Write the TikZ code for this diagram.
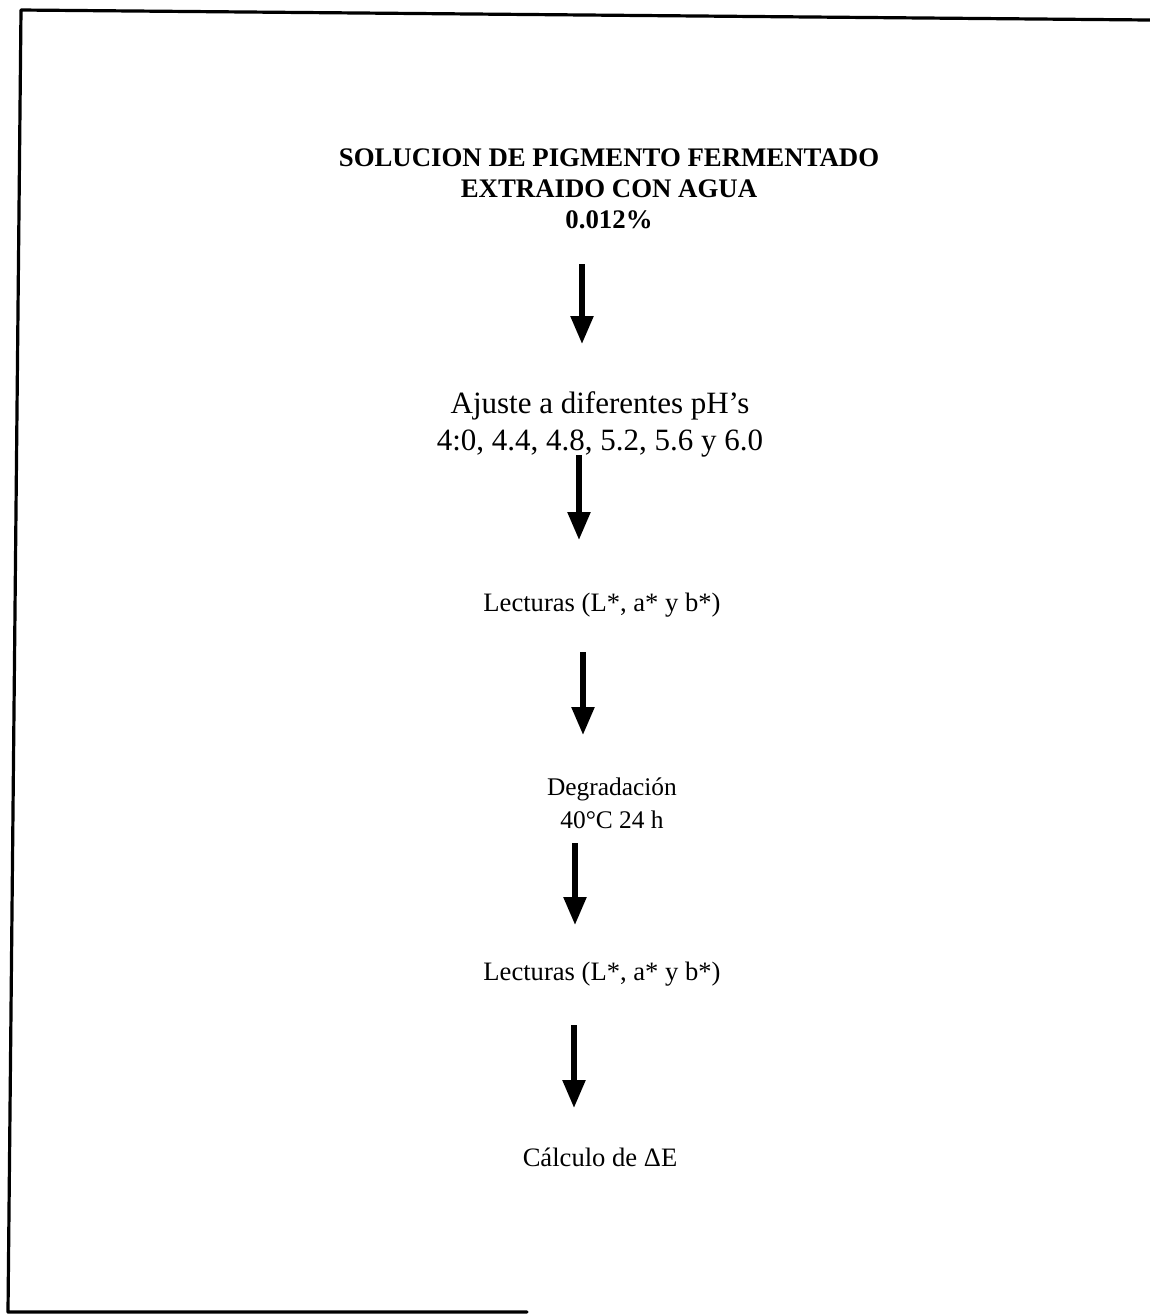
\documentclass[tikz,border=0pt]{standalone}
\usepackage{fontspec}
\setmainfont{Liberation Serif}
\usepackage{tikz}
\usetikzlibrary{arrows.meta}
\definecolor{qqqqqq}{rgb}{0.,0.,0.}
\tikzset{
  flecha/.style={line width=2.7pt,line cap=butt,color=qqqqqq,-{Triangle[width=11pt,length=14pt]}},
  marco/.style={line width=1.6pt,color=qqqqqq},
  paso/.style={anchor=center,align=center,inner sep=0pt,font=\fontsize{13.3}{16}\selectfont}
}
\begin{document}
\begin{tikzpicture}[line cap=round,line join=round,x=0.5pt,y=-0.5pt]
\useasboundingbox (0,0) rectangle (1150,1314);
% marco
\draw [marco] (1150,20) -- (21,10) -- (8,1312) -- (527,1312);
% pasos
\node [paso,font=\fontsize{13.4}{15.5}\selectfont\bfseries] (sol) at (609,189) {SOLUCION DE PIGMENTO FERMENTADO\\EXTRAIDO CON AGUA\\0.012\%};
\node [paso,font=\fontsize{15.5}{18.5}\selectfont] (aju) at (600,424) {Ajuste a diferentes pH’s\\4:0, 4.4, 4.8, 5.2, 5.6 y 6.0};
\node [paso] (lec1) at (602,605) {Lecturas (L*, a* y b*)};
\node [paso,font=\fontsize{12.7}{16.5}\selectfont] (deg) at (612,803) {Degradación\\40°C 24 h};
\node [paso] (lec2) at (602,974) {Lecturas (L*, a* y b*)};
\node [paso] (cal) at (600,1157) {Cálculo de ΔE};
% flechas
\coordinate (a1) at (582,264);
\coordinate (b1) at (582,344);
\coordinate (a2) at (579,455);
\coordinate (b2) at (579,540);
\coordinate (a3) at (583,652);
\coordinate (b3) at (583,735);
\coordinate (a4) at (575,843);
\coordinate (b4) at (575,925);
\coordinate (a5) at (574,1025);
\coordinate (b5) at (574,1108);
\foreach \i in {1,...,5}
\draw [flecha] (a\i) -- (b\i);
\end{tikzpicture}
\end{document}
